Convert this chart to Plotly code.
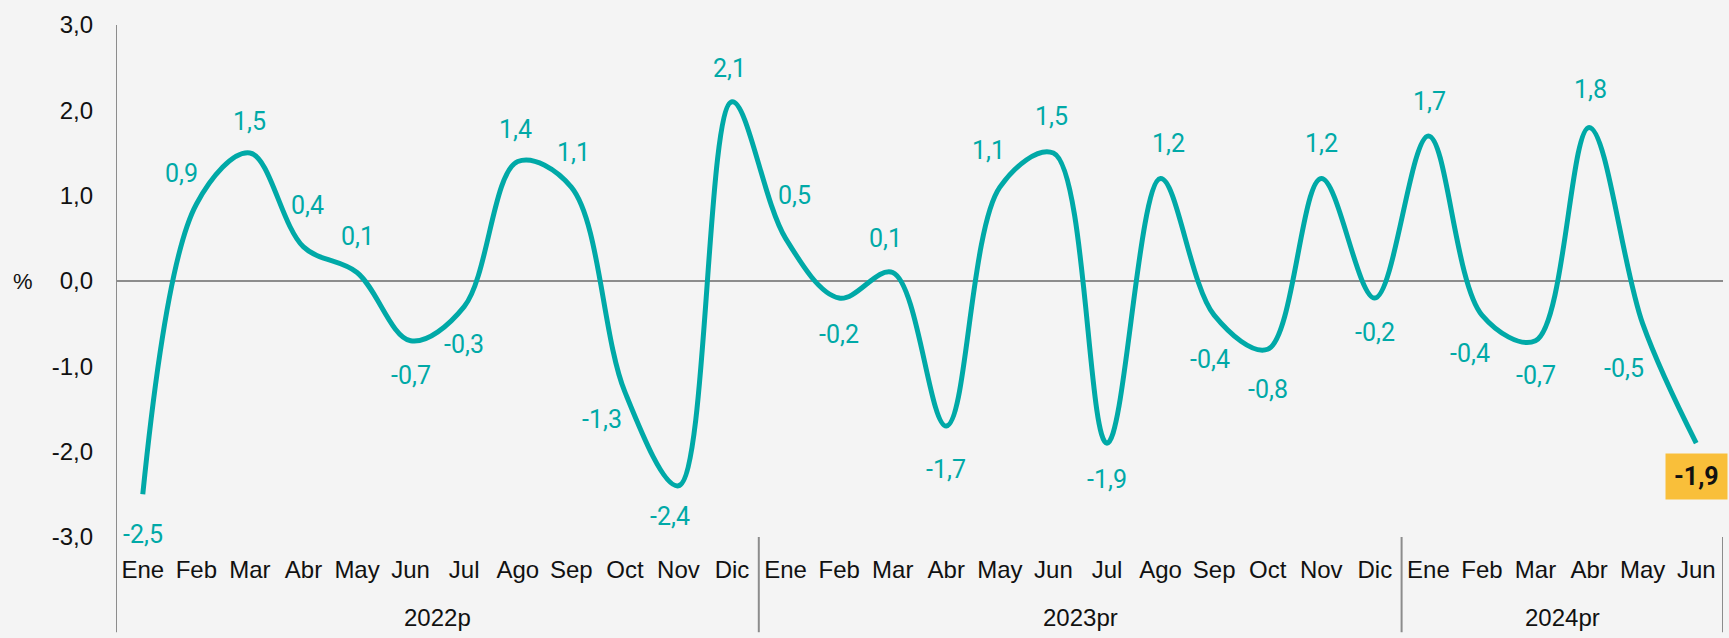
import plotly.graph_objects as go

# ---- data ----
years = ["2022p"] * 12 + ["2023pr"] * 12 + ["2024pr"] * 6
months = ["Ene", "Feb", "Mar", "Abr", "May", "Jun", "Jul", "Ago", "Sep", "Oct", "Nov", "Dic",
          "Ene", "Feb", "Mar", "Abr", "May", "Jun", "Jul", "Ago", "Sep", "Oct", "Nov", "Dic",
          "Ene", "Feb", "Mar", "Abr", "May", "Jun"]
values = [-2.5, 0.9, 1.5, 0.4, 0.1, -0.7, -0.3, 1.4, 1.1, -1.3, -2.4, 2.1,
          0.5, -0.2, 0.1, -1.7, 1.1, 1.5, -1.9, 1.2, -0.4, -0.8, 1.2, -0.2,
          1.7, -0.4, -0.7, 1.8, -0.5, -1.9]
y_ticks = [-3, -2, -1, 0, 1, 2, 3]

# ---- label placement (pixel offsets, style only) ----
label_shift = [(0, -40), (-15, 31), (0, 32), (4, 41), (0, 36), (0, -35), (0, -38), (-2, 32),
               (2, 35), (-23, -28), (-8, -31), (-3, 33), (9, 43), (0, -36), (-7, 34), (0, -43),
               (-11, 37), (-2, 37), (0, -36), (8, 35), (-4, -44), (0, -40), (0, 35), (0, -34),
               (1, 34), (-12, -38), (0, -35), (1, 38), (-19, -45), (0, -33)]

TEAL = "#00a9a7"
BG = "#f4f4f4"
AXIS = "#8c8c8c"
label_font = "Roboto, sans-serif"
axis_font = "Liberation Sans, Arial, sans-serif"

def fmt(v):
    return f"{v:.1f}".replace(".", ",")

idx = list(range(len(values)))

fig = go.Figure()
fig.add_trace(go.Scatter(
    x=idx, y=values, mode="lines",
    line=dict(color=TEAL, width=5, shape="spline", smoothing=1.0),
    hoverinfo="skip", showlegend=False,
))

for i, v in enumerate(values):
    dx, dy = label_shift[i]
    last = i == len(values) - 1
    fig.add_annotation(
        x=i, y=v, xref="x", yref="y", text=("<b>" + fmt(v) + "</b>") if last else fmt(v),
        showarrow=False, xshift=dx, yshift=dy,
        font=dict(family=label_font, size=25,
                  weight=700 if last else 400,
                  color="#111111" if last else TEAL),
        bgcolor="#f9bf3a" if last else None, borderpad=8 if last else 0,
    )

# year group labels and dividers
groups = []
for i, yv in enumerate(years):
    if not groups or groups[-1][0] != yv:
        groups.append([yv, i, i])
    else:
        groups[-1][2] = i
for name, a, b in groups:
    fig.add_annotation(x=(a + b) / 2, y=-0.158, xref="x", yref="paper", text=name,
                       showarrow=False, yanchor="middle",
                       font=dict(family=axis_font, size=24, color="#111111"))
    fig.add_shape(type="line", xref="x", yref="paper", x0=b + 0.5, x1=b + 0.5,
                  y0=0, y1=-0.186, line=dict(color=AXIS, width=2))
# y axis line extended down through the category area
fig.add_shape(type="line", xref="x", yref="paper", x0=-0.5, x1=-0.5, y0=-0.186, y1=1.0,
              line=dict(color=AXIS, width=2))

fig.add_annotation(x=-0.058, y=0, xref="paper", yref="y", text="%", showarrow=False,
                   xanchor="center", font=dict(family=axis_font, size=22, color="#111"))

fig.update_layout(
    width=1729, height=638,
    margin=dict(l=116, r=6, t=25, b=101),
    paper_bgcolor=BG, plot_bgcolor=BG,
    font=dict(family=axis_font, size=24, color="#111111"),
    xaxis=dict(
        range=[-0.5, len(values) - 0.5], tickvals=idx, ticktext=months,
        showgrid=False, zeroline=False, showline=False, ticks="",
        ticklabelstandoff=16, tickfont=dict(size=24, color="#111111"),
    ),
    yaxis=dict(
        range=[-3, 3], tickvals=y_ticks, ticktext=[fmt(t) for t in y_ticks],
        showgrid=False, zeroline=True, zerolinecolor=AXIS, zerolinewidth=2,
        showline=False, ticks="",
        ticklabelstandoff=22, tickfont=dict(size=24, color="#111111"),
    ),
)

fig.write_html("out.html", config={"displayModeBar": False},
               post_script="document.body.style.margin='0';document.body.style.overflow='hidden';")
